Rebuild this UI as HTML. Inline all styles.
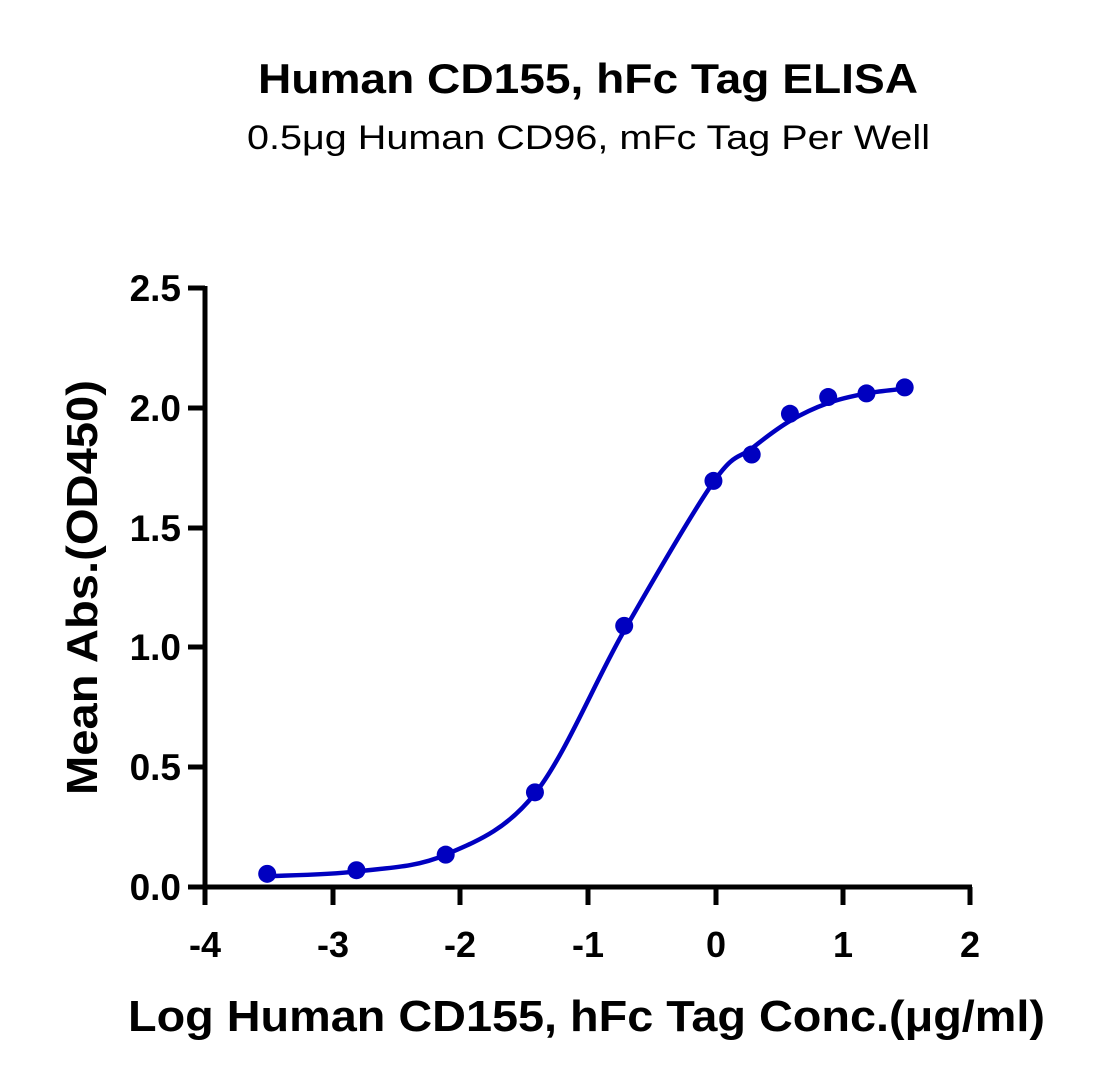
<!DOCTYPE html>
<html><head><meta charset="utf-8"><style>
html,body{margin:0;padding:0;background:#fff;}
svg text{font-family:"Liberation Sans",sans-serif;fill:#000;}
</style></head><body>
<svg id="s" width="1102" height="1087" viewBox="0 0 1102 1087" xmlns="http://www.w3.org/2000/svg">
<text x="258" y="93" font-size="42" font-weight="bold" textLength="660" lengthAdjust="spacingAndGlyphs">Human CD155, hFc Tag ELISA</text>
<text x="247" y="149" font-size="34" textLength="683" lengthAdjust="spacingAndGlyphs">0.5μg Human CD96, mFc Tag Per Well</text>
<g stroke="#000" stroke-width="5" fill="none">
<line x1="205" y1="286" x2="205" y2="889"/>
<line x1="203" y1="887" x2="972" y2="887"/>
<line x1="188" y1="288" x2="205" y2="288"/>
<line x1="188" y1="408" x2="205" y2="408"/>
<line x1="188" y1="528" x2="205" y2="528"/>
<line x1="188" y1="647" x2="205" y2="647"/>
<line x1="188" y1="767" x2="205" y2="767"/>
<line x1="188" y1="887" x2="205" y2="887"/>
<line x1="205" y1="887" x2="205" y2="905"/>
<line x1="333" y1="887" x2="333" y2="905"/>
<line x1="460" y1="887" x2="460" y2="905"/>
<line x1="588" y1="887" x2="588" y2="905"/>
<line x1="716" y1="887" x2="716" y2="905"/>
<line x1="843" y1="887" x2="843" y2="905"/>
<line x1="970" y1="887" x2="970" y2="905"/>
</g>
<g font-size="37" font-weight="bold" text-anchor="end">
<text x="181" y="301">2.5</text><text x="181" y="421">2.0</text><text x="181" y="541">1.5</text>
<text x="181" y="660">1.0</text><text x="181" y="780">0.5</text><text x="181" y="900">0.0</text>
</g>
<g font-size="36" font-weight="bold" text-anchor="middle">
<text x="205" y="957">-4</text><text x="333" y="957">-3</text><text x="460" y="957">-2</text>
<text x="588" y="957">-1</text><text x="716" y="957">0</text><text x="843" y="957">1</text><text x="970" y="957">2</text>
</g>
<text x="128" y="1031" font-size="44" font-weight="bold" textLength="917" lengthAdjust="spacingAndGlyphs">Log Human CD155, hFc Tag Conc.(μg/ml)</text>
<text transform="translate(97,795) rotate(-90)" font-size="44" font-weight="bold" textLength="415" lengthAdjust="spacingAndGlyphs">Mean Abs.(OD450)</text>
<path id="c" fill="none" stroke="#0000c0" stroke-width="4.5"/>
<g id="pts" fill="#0000c0"></g>
</svg>
<script>
function X(v){return 716+v*127.5;}function Y(v){return 887-v*239.6;}
var cp=[[-3.52,0.045],[-2.82,0.065],[-2.12,0.135],[-1.42,0.39],[-0.72,1.07],[-0.02,1.69],[0.28,1.83],[0.58,1.945],[0.88,2.02],[1.18,2.06],[1.48,2.08]].map(function(p){return[X(p[0]),Y(p[1])];});
var d="M"+cp[0][0]+","+cp[0][1];
for(var i=0;i<cp.length-1;i++){var p0=cp[i-1]||cp[i],p1=cp[i],p2=cp[i+1],p3=cp[i+2]||p2;
d+=" C"+(p1[0]+(p2[0]-p0[0])/6)+","+(p1[1]+(p2[1]-p0[1])/6)+" "+(p2[0]-(p3[0]-p1[0])/6)+","+(p2[1]-(p3[1]-p1[1])/6)+" "+p2[0]+","+p2[1];}
document.getElementById("c").setAttribute("d",d);
var pts=[[-3.52,0.055],[-2.82,0.07],[-2.12,0.135],[-1.42,0.395],[-0.72,1.09],[-0.02,1.695],[0.28,1.805],[0.58,1.975],[0.88,2.045],[1.18,2.06],[1.48,2.085]];
var g=document.getElementById("pts"),h="";
pts.forEach(function(p){h+='<circle cx="'+X(p[0])+'" cy="'+Y(p[1])+'" r="9"/>';});
g.innerHTML=h;
</script>
</body></html>
